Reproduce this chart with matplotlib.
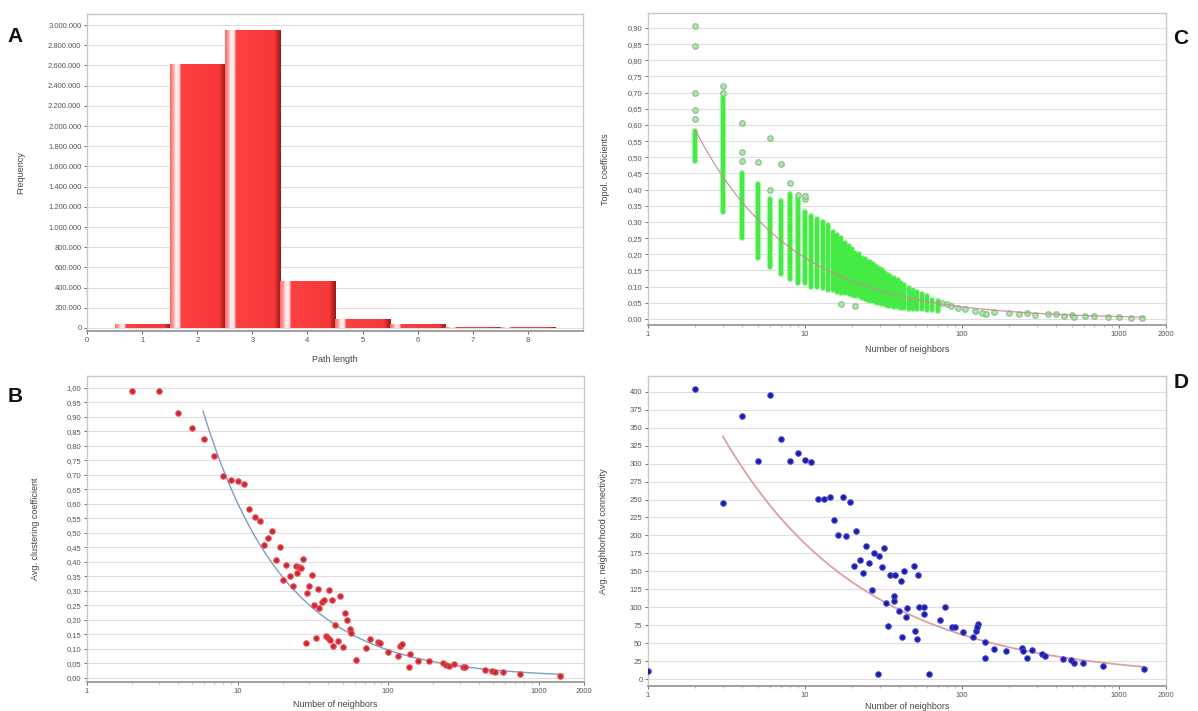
import numpy as np
import matplotlib
matplotlib.use("Agg")
import matplotlib.pyplot as plt
from matplotlib.ticker import FixedLocator, NullFormatter, FuncFormatter, LogLocator

plt.rcParams['font.family'] = ['Liberation Sans', 'DejaVu Sans']

# ---------------- data ----------------
# A: shortest path length distribution
path_len = [1, 2, 3, 4, 5, 6, 7, 8]
path_freq = [30000, 2610000, 2950000, 465000, 88000, 38000, 3000, 600]

# B: clustering coefficient vs number of neighbors
b_k = [2, 3, 4, 5, 6, 7, 8, 9, 10, 11, 12, 13, 14, 17, 16, 15, 19, 18, 21, 20,
       22.4, 23.3, 24.3, 25.7, 26.3, 25, 27.3, 31, 30, 29, 34.4, 32, 35, 36.5, 37.7,
       40.5, 42.4, 47.7, 51.5, 53, 55.5, 56.5, 44.6, 33.4, 28.3, 38.5, 40, 41.3,
       43.3, 46.7, 50.5, 61.5, 71.2, 75.6, 86, 88.7, 99.3, 116, 120, 123, 139, 138,
       158, 187, 233, 242, 254, 274, 314, 325, 437, 490, 510, 582, 751, 1390]
b_cc = [0.99, 0.99, 0.913, 0.861, 0.823, 0.765, 0.695, 0.68, 0.677, 0.666, 0.581,
        0.553, 0.539, 0.505, 0.481, 0.456, 0.451, 0.405, 0.388, 0.335, 0.351, 0.317,
        0.386, 0.383, 0.377, 0.36, 0.409, 0.354, 0.317, 0.292, 0.305, 0.252, 0.241,
        0.26, 0.266, 0.303, 0.269, 0.28, 0.224, 0.2, 0.167, 0.155, 0.18, 0.138, 0.119,
        0.144, 0.136, 0.13, 0.108, 0.127, 0.104, 0.062, 0.102, 0.133, 0.124, 0.118,
        0.087, 0.076, 0.11, 0.117, 0.082, 0.036, 0.059, 0.058, 0.052, 0.044, 0.04,
        0.048, 0.037, 0.035, 0.028, 0.024, 0.02, 0.019, 0.014, 0.006]
b_fit_a, b_fit_b, b_fit_range = 3.8, -0.8, (5.9, 1460)

# C: topological coefficients (dense columns as lo/hi ranges + single points)
c_col_k = [2, 3, 4, 5, 6, 7, 8, 9, 10, 11, 12, 13, 14, 15, 16, 17, 18, 19, 20,
           21, 22, 23, 24, 25, 26, 27, 28, 29, 30, 31, 32, 33, 34, 35, 37, 39, 41,
           43, 46, 49, 52, 56, 60, 65, 70]
c_col_lo = [0.49, 0.33, 0.25, 0.19, 0.16, 0.14, 0.125, 0.11, 0.11, 0.10, 0.10, 0.095,
            0.09, 0.09, 0.085, 0.08, 0.08, 0.078, 0.075, 0.072, 0.07, 0.066, 0.063,
            0.06, 0.057, 0.055, 0.053, 0.05, 0.048, 0.046, 0.045, 0.043, 0.041, 0.04,
            0.038, 0.036, 0.035, 0.034, 0.032, 0.031, 0.03, 0.03, 0.028, 0.027, 0.025]
c_col_hi = [0.58, 0.684, 0.45, 0.417, 0.37, 0.365, 0.386, 0.375, 0.33, 0.32, 0.31,
            0.30, 0.29, 0.27, 0.26, 0.25, 0.235, 0.225, 0.215, 0.205, 0.20, 0.19,
            0.185, 0.18, 0.175, 0.17, 0.165, 0.16, 0.155, 0.15, 0.145, 0.14, 0.137,
            0.134, 0.128, 0.12, 0.112, 0.105, 0.097, 0.09, 0.084, 0.078, 0.07, 0.06,
            0.055]
c_pt_k = [2, 2, 2, 2, 2, 3, 3, 4, 4, 4, 5, 6, 6, 7, 8, 9, 10, 10, 17, 21,
          75, 80, 85, 95, 105, 122, 135, 142, 160, 200, 230, 260, 294, 355, 400,
          450, 500, 520, 610, 700, 850, 1000, 1200, 1400]
c_pt_v = [0.905, 0.845, 0.70, 0.645, 0.62, 0.72, 0.70, 0.605, 0.515, 0.49, 0.486,
          0.56, 0.40, 0.48, 0.42, 0.385, 0.37, 0.38, 0.045, 0.04,
          0.05, 0.045, 0.04, 0.035, 0.03, 0.025, 0.02, 0.015, 0.022, 0.02, 0.016,
          0.018, 0.012, 0.016, 0.014, 0.01, 0.012, 0.005, 0.009, 0.008, 0.006,
          0.007, 0.004, 0.004]
c_fit_a, c_fit_b, c_fit_range = 0.95, -0.7, (2, 1450)

# D: neighborhood connectivity vs number of neighbors
d_k = [1, 2, 3, 4, 5, 6, 7, 8, 9, 10, 11, 12.2, 13.2, 14.4, 15.4, 16.3, 17.4, 18.4,
       19.3, 20.4, 21.3, 22.3, 23.6, 24.5, 25.7, 26.8, 27.6, 29.7, 30.9, 32, 33, 34,
       34.9, 37.6, 36.7, 37.2, 40, 40.8, 41.8, 42.7, 44, 44.8, 49.4, 50, 51.9, 52.7,
       53.5, 57.5, 57.5, 62.1, 29.1, 72.6, 77.6, 86.7, 89.8, 102, 117, 123, 126, 124,
       141, 141, 161, 192, 240, 245, 260, 281, 322, 340, 440, 494, 515, 596, 789, 1441]
d_nc = [10.5, 403.6, 245, 366, 303, 396, 334, 304, 315, 304.5, 302, 251, 251, 253.6,
        222, 200, 253, 198.6, 247, 157, 206, 166, 148, 185, 162, 123.6, 175.5, 171,
        156, 183, 106, 74, 145.5, 145.5, 116, 108, 94.5, 136, 58, 150, 86, 99, 157,
        67, 56, 144.5, 100, 100, 91, 7, 7, 82, 101, 72, 73, 65, 59, 67, 77, 72, 52,
        29.5, 42, 38.6, 42.7, 39, 29.5, 40, 34.5, 31.8, 28, 26.4, 21.8, 21.8, 18.6,
        13.6]
d_fit_a, d_fit_b, d_fit_range = 575, -0.484, (3, 1441)

log_ticks = [1, 10, 100, 1000, 2000]

# ---------------- figure ----------------
W, H = 1198, 711
fig = plt.figure(figsize=(W / 100, H / 100), dpi=100)


def box(l, t, r, b):
    return [l / W, 1 - b / H, (r - l) / W, (b - t) / H]


axA = fig.add_axes(box(87, 14, 583, 331))
axC = fig.add_axes(box(648, 13, 1166, 325))
axB = fig.add_axes(box(87, 376, 584, 682))
axD = fig.add_axes(box(648, 376, 1166, 686))

tick_col = '#555555'
lab_col = '#444444'


def style(ax):
    for s in ['top', 'right', 'left']:
        ax.spines[s].set_color('#c8c8c8')
        ax.spines[s].set_linewidth(1.0)
    ax.spines['bottom'].set_color('#909090')
    ax.spines['bottom'].set_linewidth(1.2)
    ax.grid(axis='y', color='#dedede', linewidth=0.8)
    ax.set_axisbelow(True)
    ax.tick_params(axis='both', which='major', labelsize=5.5, colors=tick_col,
                   length=2, width=0.6, pad=2)
    ax.tick_params(axis='x', which='minor', length=1.5, width=0.5, colors='#999999')


def log_x(ax):
    ax.set_xscale('log')
    ax.set_xlim(1, 2000)
    ax.xaxis.set_major_locator(FixedLocator(log_ticks))
    ax.xaxis.set_major_formatter(FuncFormatter(lambda v, p: f"{v:g}"))
    ax.xaxis.set_minor_locator(LogLocator(subs=range(2, 10)))
    ax.xaxis.set_minor_formatter(NullFormatter())


comma2 = FuncFormatter(lambda v, p: f"{v:.2f}".replace('.', ','))

# ---- A: histogram with gradient bars ----
t = np.linspace(0, 1, 200)
stops = [0, 0.06, 0.1, 0.16, 0.2, 0.88, 0.95, 1.0]
rr = np.interp(t, stops, [0.98, 1.0, 1.0, 1.0, 1.0, 0.97, 0.75, 0.6])
gg = np.interp(t, stops, [0.42, 0.62, 0.93, 0.93, 0.25, 0.22, 0.13, 0.1])
grad = np.dstack([rr, gg, gg])
for x, h in zip(path_len, path_freq):
    axA.imshow(grad, extent=(x - 0.5, x + 0.5, 0, h), aspect='auto',
               interpolation='bilinear', zorder=2)
axA.set_xlim(0, 9)
axA.set_ylim(-30000, 3110000)
axA.set_xticks(range(0, 9))
axA.set_yticks(np.arange(0, 3000001, 200000))
axA.yaxis.set_major_formatter(
    FuncFormatter(lambda v, p: f"{int(round(v)):,}".replace(',', '.')))
style(axA)
axA.set_xlabel('Path length', fontsize=6.5, color=lab_col)
axA.set_ylabel('Frequency', fontsize=6.5, color=lab_col)
axA.xaxis.set_label_coords(0.5, -0.075)
axA.yaxis.set_label_coords(-0.125, 0.5)

# ---- B ----
log_x(axB)
bx = np.geomspace(*b_fit_range, 200)
axB.plot(bx, b_fit_a * bx ** b_fit_b, color='#7f9cc4', linewidth=1.0, zorder=2)
axB.scatter(b_k, b_cc, s=15, facecolor='#c02a3c', edgecolor='#f04848',
            linewidth=0.8, zorder=3)
axB.set_ylim(-0.015, 1.04)
axB.set_yticks(np.arange(0, 1.001, 0.05))
axB.yaxis.set_major_formatter(comma2)
style(axB)
axB.set_xlabel('Number of neighbors', fontsize=6.5, color=lab_col)
axB.set_ylabel('Avg. clustering coefficient', fontsize=6.5, color=lab_col)
axB.xaxis.set_label_coords(0.5, -0.06)
axB.yaxis.set_label_coords(-0.094, 0.5)

# ---- C ----
log_x(axC)
axC.vlines(c_col_k, c_col_lo, c_col_hi, colors='#b4f2b4', linewidth=4.6,
           capstyle='round', zorder=2)
axC.vlines(c_col_k, c_col_lo, c_col_hi, colors='#45ea45', linewidth=3.0,
           capstyle='round', zorder=2)
axC.scatter(c_pt_k, c_pt_v, s=16, facecolor='#a6e6a6', edgecolor='#7cb87c',
            linewidth=0.8, alpha=0.9, zorder=3)
cx = np.geomspace(*c_fit_range, 200)
axC.plot(cx, c_fit_a * cx ** c_fit_b, color='#c49090', linewidth=0.9,
         alpha=0.9, zorder=4)
axC.set_ylim(-0.0186, 0.9464)
axC.set_yticks(np.arange(0, 0.901, 0.05))
axC.yaxis.set_major_formatter(comma2)
style(axC)
axC.set_xlabel('Number of neighbors', fontsize=6.5, color=lab_col)
axC.set_ylabel('Topol. coefficients', fontsize=6.5, color=lab_col)
axC.xaxis.set_label_coords(0.5, -0.065)
axC.yaxis.set_label_coords(-0.074, 0.5)

# ---- D ----
log_x(axD)
dx = np.geomspace(*d_fit_range, 200)
axD.plot(dx, d_fit_a * dx ** d_fit_b, color='#dba0a0', linewidth=1.3, zorder=2)
axD.scatter(d_k, d_nc, s=15, facecolor='#1e1e8c', edgecolor='#3a3aee',
            linewidth=0.8, zorder=3)
axD.set_ylim(-9.7, 422)
axD.set_yticks(np.arange(0, 401, 25))
style(axD)
axD.set_xlabel('Number of neighbors', fontsize=6.5, color=lab_col)
axD.set_ylabel('Avg. neighborhood connectivity', fontsize=6.5, color=lab_col)
axD.xaxis.set_label_coords(0.5, -0.052)
axD.yaxis.set_label_coords(-0.077, 0.5)

# panel letters
for lab, px, py in [('A', 15, 37), ('B', 15, 397), ('C', 1181, 38), ('D', 1181, 383)]:
    fig.text(px / W, 1 - py / H, lab, fontsize=15, fontweight='bold',
             ha='center', va='center', color='#111111')

fig.savefig('out.png', dpi=100)
